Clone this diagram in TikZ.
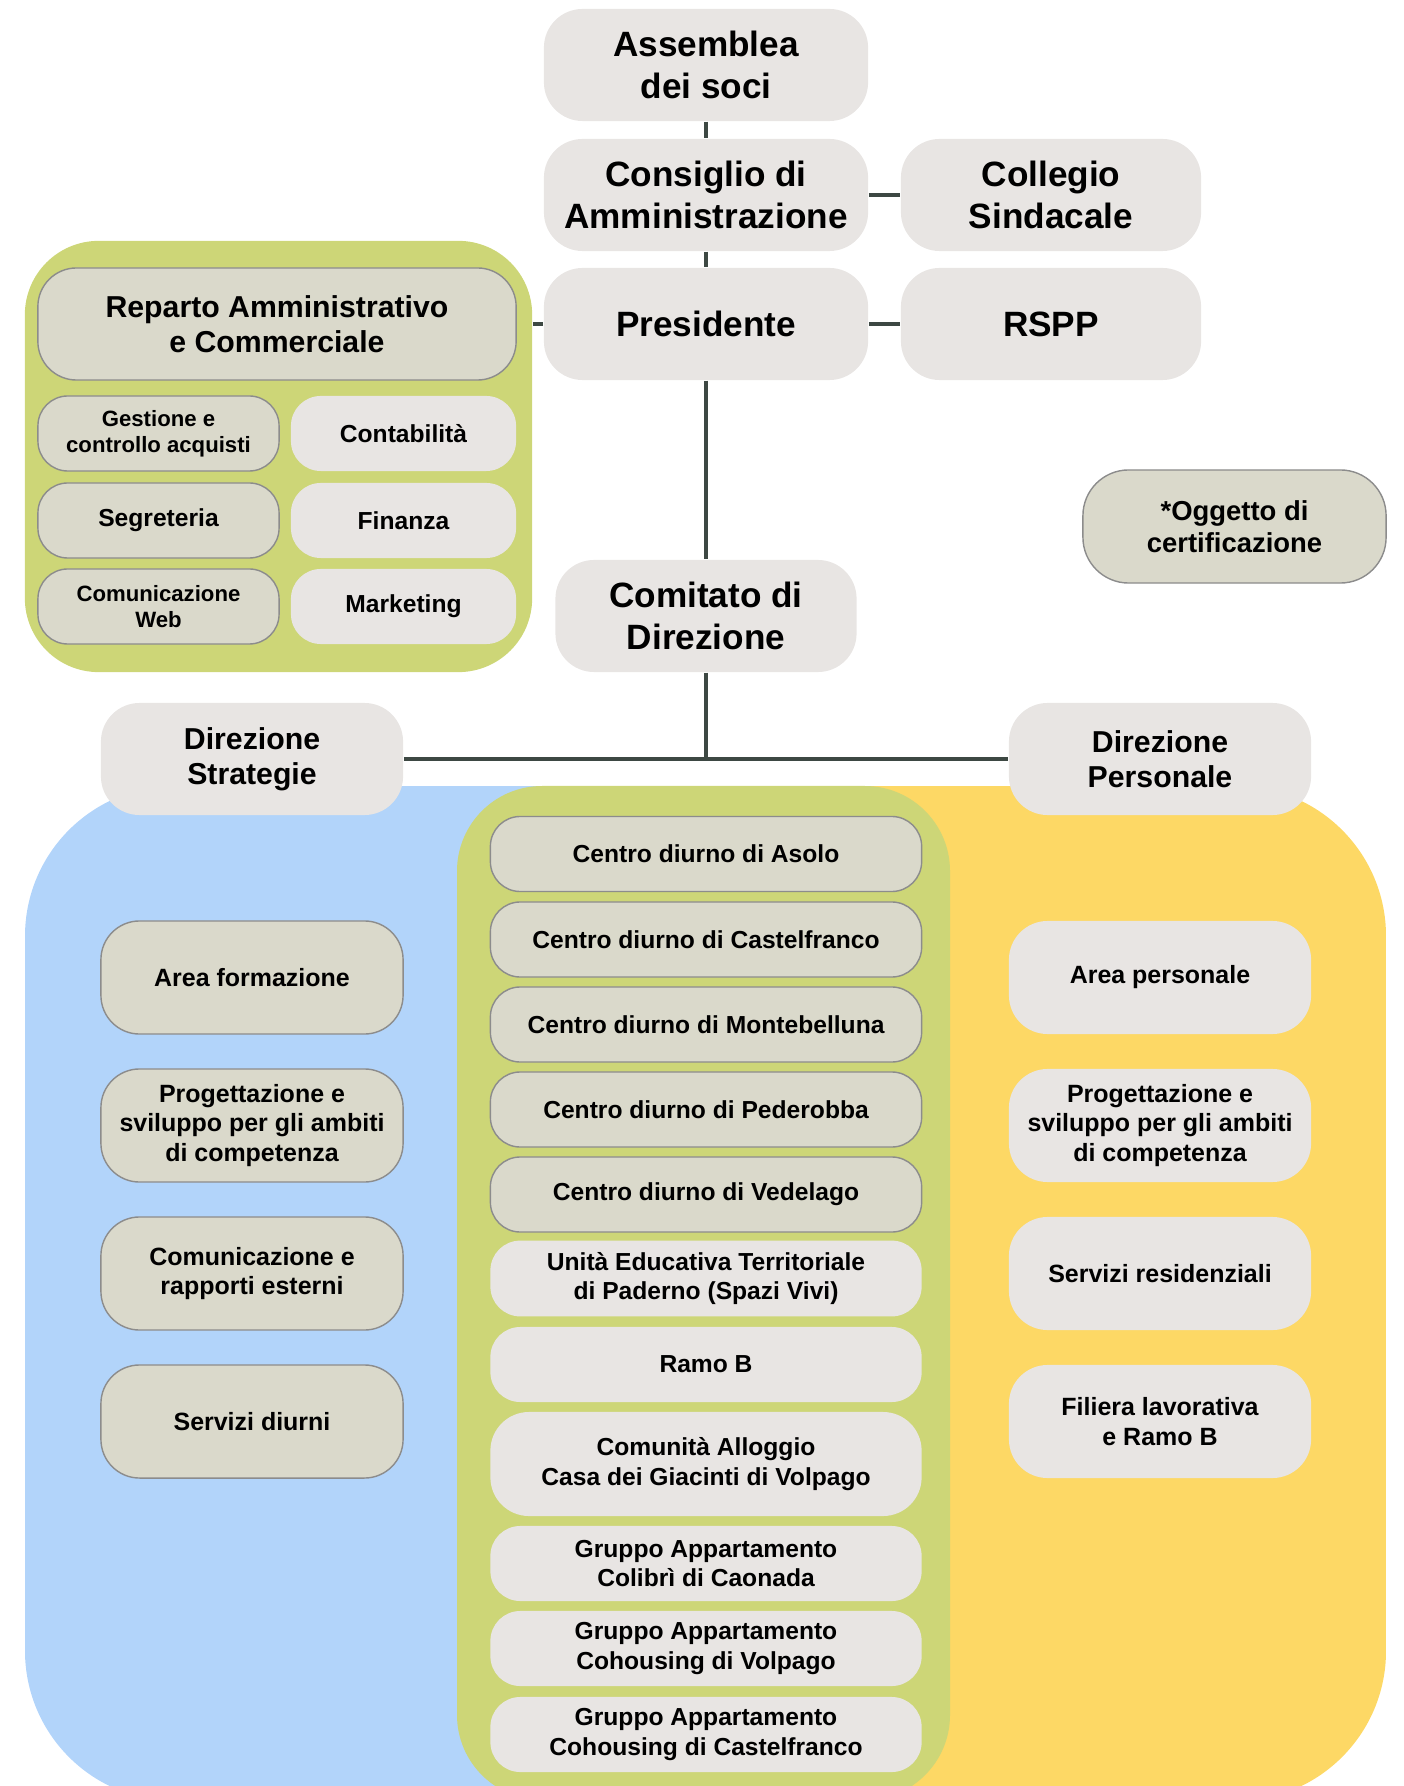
\documentclass[tikz,border=0pt]{standalone}
\usepackage{fontspec}
\setmainfont{Liberation Sans}
\usepackage{tikz}

\definecolor{boxgrey}{HTML}{E8E5E3}
\definecolor{boxtaupe}{HTML}{DAD9CB}
\definecolor{boxedge}{HTML}{8C8C8C}
\definecolor{areagreen}{HTML}{CDD677}
\definecolor{areablue}{HTML}{B2D4FA}
\definecolor{areayellow}{HTML}{FDD865}
\definecolor{linkcol}{HTML}{3D4843}

\begin{document}
\begin{tikzpicture}[x=0.01cm,y=-0.01cm,
    headbox/.style={fill=boxgrey, rounded corners=11pt, minimum height=1.12cm, align=center,
      font=\fontsize{10}{11.7}\selectfont\bfseries},
    subbox/.style={fill=boxgrey, rounded corners=8.5pt, minimum height=0.75cm, align=center,
      font=\fontsize{7}{8.3}\selectfont\bfseries},
    certbox/.style={subbox, fill=boxtaupe, draw=boxedge, line width=0.4pt},
    unitbox/.style={fill=boxgrey, rounded corners=11pt, minimum width=3.02cm, minimum height=1.13cm,
      align=center, font=\fontsize{7.1}{8.4}\selectfont\bfseries},
    link/.style={draw=linkcol, line width=0.9pt}]
  \useasboundingbox (0,0) rectangle (1404,1786);

  % blue and yellow areas
  \begin{scope}
    \clip[rounded corners=1.5cm] (25,786) rectangle (1386,1801);
    \fill[areablue] (25,786) rectangle (706,1801);
    \fill[areayellow] (706,786) rectangle (1386,1801);
  \end{scope}
  % green column
  \fill[areagreen, rounded corners=0.85cm] (457,786) rectangle (950,1800);

  % top of the chart
  \node[headbox, minimum width=3.24cm] (assemblea) at (706,65) {Assemblea\\dei soci};
  \node[headbox, minimum width=3.24cm] (consiglio) at (706,195) {Consiglio di\\Amministrazione};
  \node[headbox, minimum width=3.00cm] (collegio) at (1051,195) {Collegio\\Sindacale};
  \node[headbox, minimum width=3.24cm] (presidente) at (706,324) {Presidente};
  \node[headbox, minimum width=3.00cm] (rspp) at (1051,324) {RSPP};
  \node[headbox, minimum width=3.01cm] (comitato) at (706,616) {Comitato di\\Direzione};

  % Reparto Amministrativo e Commerciale
  \node[fill=areagreen, rounded corners=21pt, minimum width=5.07cm, minimum height=4.31cm] (reparto) at (278.5,456.5) {};
  \node[headbox, fill=boxtaupe, draw=boxedge, line width=0.4pt, minimum width=4.78cm,
    font=\fontsize{8.6}{10}\selectfont\bfseries] (repartohead) at (277,324) {Reparto Amministrativo\\e Commerciale};
  \node[certbox, minimum width=2.41cm, font=\fontsize{6.3}{7.3}\selectfont\bfseries] (acquisti) at (158.5,433.5) {Gestione e\\controllo acquisti};
  \node[certbox, minimum width=2.41cm] (segreteria) at (158.5,520.5) {Segreteria};
  \node[certbox, minimum width=2.41cm, font=\fontsize{6.3}{7.3}\selectfont\bfseries] (web) at (158.5,606.5) {Comunicazione\\Web};
  \node[subbox, minimum width=2.25cm] (contabilita) at (403.5,433.5) {Contabilità};
  \node[subbox, minimum width=2.25cm] (finanza) at (403.5,520.5) {Finanza};
  \node[subbox, minimum width=2.25cm] (marketing) at (403.5,606.5) {Marketing};

  % legend
  \node[certbox, rounded corners=13pt, minimum width=3.03cm, minimum height=1.13cm,
    font=\fontsize{7.8}{9.1}\selectfont\bfseries] (oggetto) at (1234.5,526.5) {*Oggetto di\\certificazione};

  % Direzioni
  \node[headbox, minimum width=3.02cm, font=\fontsize{8.6}{10}\selectfont\bfseries] (strategie) at (252,759) {Direzione\\Strategie};
  \node[headbox, minimum width=3.02cm, font=\fontsize{8.6}{10}\selectfont\bfseries] (personale) at (1160,759) {Direzione\\Personale};

  % centres and services
  \node[certbox, minimum width=4.31cm] (asolo) at (706,854) {Centro diurno di Asolo};
  \node[certbox, minimum width=4.31cm] (castelfranco) at (706,939.5) {Centro diurno di Castelfranco};
  \node[certbox, minimum width=4.31cm] (montebelluna) at (706,1024.5) {Centro diurno di Montebelluna};
  \node[certbox, minimum width=4.31cm] (pederobba) at (706,1109.5) {Centro diurno di Pederobba};
  \node[certbox, minimum width=4.31cm] (vedelago) at (706,1194.5) {Centro diurno di Vedelago};
  \node[subbox, minimum width=4.31cm] (paderno) at (706,1278.5) {Unità Educativa Territoriale\\di Paderno (Spazi Vivi)};
  \node[subbox, minimum width=4.31cm] (ramob) at (706,1364.5) {Ramo B};
  \node[subbox, minimum width=4.31cm, minimum height=1.04cm, rounded corners=11pt] (giacinti) at (706,1464) {Comunità Alloggio\\Casa dei Giacinti di Volpago};
  \node[subbox, minimum width=4.31cm] (colibri) at (706,1563.5) {Gruppo Appartamento\\Colibrì di Caonada};
  \node[subbox, minimum width=4.31cm] (cohvolpago) at (706,1648.5) {Gruppo Appartamento\\Cohousing di Volpago};
  \node[subbox, minimum width=4.31cm] (cohcastel) at (706,1734.5) {Gruppo Appartamento\\Cohousing di Castelfranco};

  % Direzione Strategie areas
  \node[unitbox, fill=boxtaupe, draw=boxedge, line width=0.4pt] (formazione) at (252,977.5) {Area formazione};
  \node[unitbox, fill=boxtaupe, draw=boxedge, line width=0.4pt] (progettazionel) at (252,1125.5) {Progettazione e\\sviluppo per gli ambiti\\di competenza};
  \node[unitbox, fill=boxtaupe, draw=boxedge, line width=0.4pt] (comunicazione) at (252,1273.5) {Comunicazione e\\rapporti esterni};
  \node[unitbox, fill=boxtaupe, draw=boxedge, line width=0.4pt] (diurni) at (252,1421.5) {Servizi diurni};

  % Direzione Personale areas
  \node[unitbox] (areapersonale) at (1160,977.5) {Area personale};
  \node[unitbox] (progettazioner) at (1160,1125.5) {Progettazione e\\sviluppo per gli ambiti\\di competenza};
  \node[unitbox] (residenziali) at (1160,1273.5) {Servizi residenziali};
  \node[unitbox] (filiera) at (1160,1421.5) {Filiera lavorativa\\e Ramo B};

  % connectors
  \draw[link] (assemblea) -- (consiglio);
  \draw[link] (consiglio) -- (collegio);
  \draw[link] (consiglio) -- (presidente);
  \draw[link] (presidente) -- (rspp);
  \draw[link] (presidente.west) -- (presidente.west -| reparto.east);
  \draw[link] (presidente) -- (comitato);
  \draw[link] (comitato.south) -- (comitato.south |- strategie.east);
  \draw[link, line width=1.2pt] (strategie.east) -- (personale.west);
\end{tikzpicture}
\end{document}
